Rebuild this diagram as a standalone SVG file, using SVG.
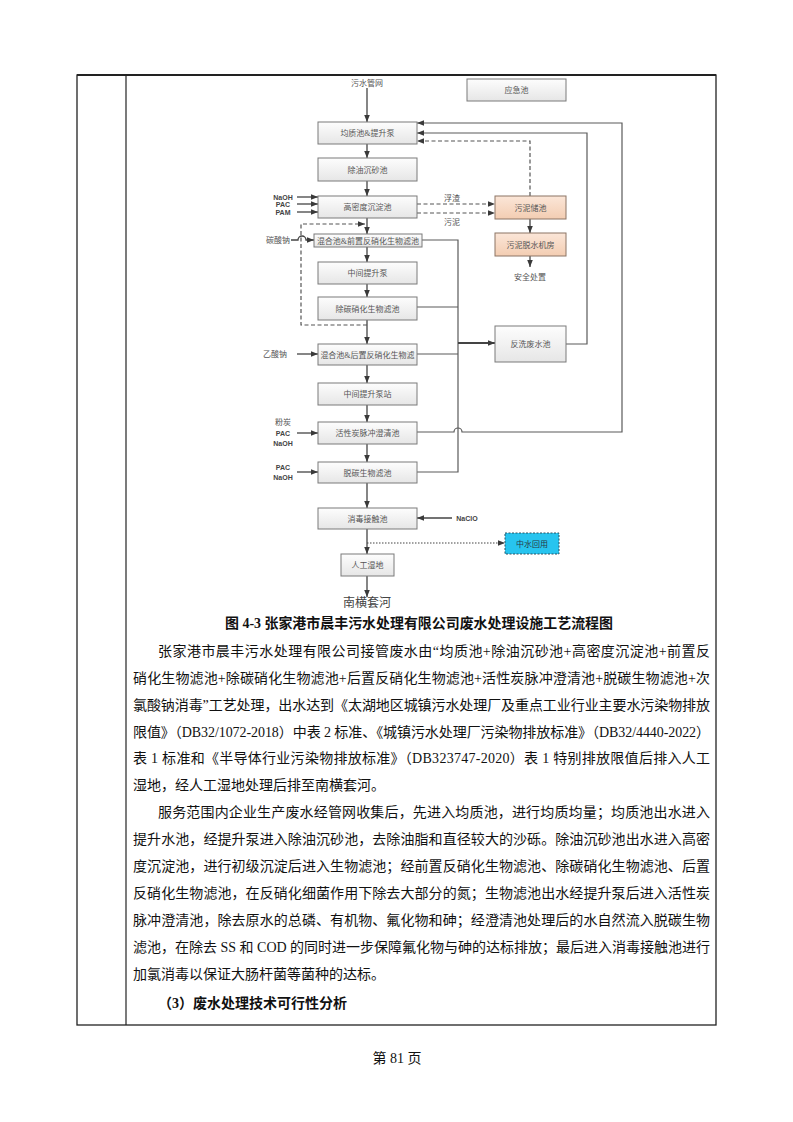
<svg xmlns="http://www.w3.org/2000/svg" width="793" height="1122" viewBox="0 0 793 1122">
<style>
.bx{fill:url(#gg);stroke:#7a7a7a;stroke-width:1}
.pk{fill:url(#pg);stroke:#8c7565;stroke-width:1}
.lb{font-family:"Liberation Serif","Noto Sans CJK SC",serif;font-size:8px;fill:#555;text-anchor:middle}
.ch{font-family:"Liberation Sans","Noto Sans CJK SC",sans-serif;font-size:7px;font-weight:bold;fill:#444;text-anchor:middle}
.cl{font-family:"Liberation Serif","Noto Sans CJK SC",serif;font-size:8px;fill:#555;text-anchor:middle}
.ln{fill:none;stroke:#5a5a5a;stroke-width:1.2}
.ar{fill:none;stroke:#444;stroke-width:1.3;marker-end:url(#ah)}
.ds{fill:none;stroke:#555;stroke-width:1.2;stroke-dasharray:4,2.5}
.bd{font-family:"Liberation Serif","Noto Sans CJK SC",serif;font-size:14px;fill:#111}
.bb{font-family:"Liberation Serif","Noto Sans CJK SC",serif;font-size:14px;font-weight:bold;fill:#111}
</style>
<defs>
<linearGradient id="gg" x1="0" y1="0" x2="0" y2="1"><stop offset="0" stop-color="#fdfdfd"/><stop offset="1" stop-color="#e6e6e6"/></linearGradient>
<linearGradient id="pg" x1="0" y1="0" x2="0" y2="1"><stop offset="0" stop-color="#fbe6d8"/><stop offset="1" stop-color="#f3cdb2"/></linearGradient>
<marker id="ah" viewBox="0 0 10 10" refX="10" refY="5" markerWidth="7" markerHeight="7" markerUnits="userSpaceOnUse" orient="auto"><path d="M0,1 L10,5 L0,9 z" fill="#3a3a3a"/></marker>
</defs>
<rect width="793" height="1122" fill="#fff"/>
<g id="table">
<rect x="77" y="75" width="639" height="950" fill="none" stroke="#222" stroke-width="1.3"/>
<line x1="77" y1="75" x2="716" y2="75" stroke="#222" stroke-width="2"/>
<line x1="126" y1="75" x2="126" y2="1025" stroke="#222" stroke-width="1.2"/>
</g>
<g id="connectors">
<path class="ar" d="M367,88 V122"/>
<path class="ar" d="M367,144 V158"/>
<path class="ar" d="M367,181 V196"/>
<path class="ar" d="M367,218 V234"/>
<path class="ar" d="M367,247 V262"/>
<path class="ar" d="M367,284 V297"/>
<path class="ar" d="M367,320 V344"/>
<path class="ar" d="M367,365 V383"/>
<path class="ar" d="M367,405 V422"/>
<path class="ar" d="M367,444 V462"/>
<path class="ar" d="M367,483 V508"/>
<path class="ar" d="M367,529 V554"/>
<path class="ar" d="M367,576 V597"/>
<path class="ar" d="M452,518 H417"/>
<path class="ar" style="stroke-dasharray:1.5,1.5;stroke-width:1.1" d="M367,543 H505"/>
<path class="ar" d="M297,197 H318"/>
<path class="ar" d="M297,204 H318"/>
<path class="ar" d="M297,212 H318"/>
<path class="ar" d="M291,240 H298 A4,4 0 0 1 306,240 H314"/>
<path class="ar" d="M297,354 H318"/>
<path class="ar" d="M297,433 H318"/>
<path class="ar" d="M297,472 H318"/>
<path class="ds" marker-end="url(#ah)" d="M417,204 H495"/>
<path class="ds" marker-end="url(#ah)" d="M417,213 H495"/>
<path class="ar" d="M530,219 V233"/>
<path class="ar" d="M530,256 V267"/>
<path class="ds" marker-end="url(#ah)" d="M530,196 V141 H417"/>
<path class="ln" marker-end="url(#ah)" d="M566,344 H587 V133 H417"/>
<path class="ln" marker-end="url(#ah)" d="M417,432 H454 A4,4 0 0 1 462,432 H622 V123 H417"/>
<path class="ln" d="M422,240 H458 V472 H417"/>
<path class="ln" d="M417,307 H458"/>
<path class="ln" d="M417,354 H458"/>
<path class="ar" style="stroke-width:1.8" d="M458,343 H495"/>
<path class="ds" marker-end="url(#ah)" d="M367,325 H301 V224 H365"/>
</g>
<g id="n-source"><text class="cl" x="367" y="86">污水管网</text></g>
<g id="n-emergency"><rect class="bx" x="467" y="79" width="99" height="22"/><text class="lb" x="516.5" y="93">应急池</text></g>
<g id="n-1"><rect class="bx" x="318" y="122" width="99" height="22"/><text class="lb" x="367.5" y="136">均质池&amp;提升泵</text></g>
<g id="n-2"><rect class="bx" x="318" y="158" width="99" height="23"/><text class="lb" x="367.5" y="172.5">除油沉砂池</text></g>
<g id="n-3"><rect class="bx" x="318" y="196" width="99" height="22"/><text class="lb" x="367.5" y="210">高密度沉淀池</text></g>
<g id="n-4"><rect class="bx" x="314" y="234" width="108" height="13"/><text class="lb" x="368" y="243.5">混合池&amp;前置反硝化生物滤池</text></g>
<g id="n-5"><rect class="bx" x="318" y="262" width="99" height="22"/><text class="lb" x="367.5" y="276">中间提升泵</text></g>
<g id="n-6"><rect class="bx" x="318" y="297" width="99" height="23"/><text class="lb" x="367.5" y="311.5">除碳硝化生物滤池</text></g>
<g id="n-7"><rect class="bx" x="318" y="344" width="99" height="21"/><text class="lb" x="367.5" y="357.5">混合池&amp;后置反硝化生物滤</text></g>
<g id="n-8"><rect class="bx" x="318" y="383" width="99" height="22"/><text class="lb" x="367.5" y="397">中间提升泵站</text></g>
<g id="n-9"><rect class="bx" x="318" y="422" width="99" height="22"/><text class="lb" x="367.5" y="436">活性炭脉冲澄清池</text></g>
<g id="n-10"><rect class="bx" x="318" y="462" width="99" height="21"/><text class="lb" x="367.5" y="475.5">脱碳生物滤池</text></g>
<g id="n-11"><rect class="bx" x="318" y="508" width="99" height="21"/><text class="lb" x="367.5" y="521.5">消毒接触池</text></g>
<g id="n-12"><rect class="bx" x="341" y="554" width="53" height="22"/><text class="lb" x="367.5" y="568">人工湿地</text></g>
<g id="n-river"><text x="367" y="607" style="font-family:'Liberation Serif','Noto Sans CJK SC',serif;font-size:12px;fill:#444;text-anchor:middle">南横套河</text></g>
<g id="n-sludge"><rect class="pk" x="495" y="196" width="71" height="23"/><text class="lb" x="530.5" y="210.5">污泥储池</text></g>
<g id="n-dewater"><rect class="pk" x="495" y="233" width="71" height="23"/><text class="lb" x="530.5" y="247.5">污泥脱水机房</text></g>
<g id="n-safe"><text class="cl" x="530" y="280">安全处置</text></g>
<g id="n-backwash"><rect class="bx" x="495" y="326" width="71" height="36"/><text class="lb" x="530.5" y="347">反洗废水池</text></g>
<g id="n-reuse"><rect x="505" y="533" width="54" height="21" fill="#27c4ef" stroke="#2a5060" stroke-width="1" stroke-dasharray="2,1.5"/><text class="lb" x="532" y="546.5" style="fill:#2a3a44">中水回用</text></g>
<g id="labels">
<text class="ch" x="283" y="200">NaOH</text>
<text class="ch" x="283" y="207">PAC</text>
<text class="ch" x="283" y="214.5">PAM</text>
<text class="cl" x="278" y="243">碳酸钠</text>
<text class="cl" x="275" y="357">乙酸钠</text>
<text class="cl" x="283" y="425">粉炭</text>
<text class="ch" x="283" y="436">PAC</text>
<text class="ch" x="283" y="446">NaOH</text>
<text class="ch" x="283" y="470">PAC</text>
<text class="ch" x="283" y="480">NaOH</text>
<text class="ch" x="467" y="521">NaClO</text>
<text class="cl" x="452" y="201">浮渣</text>
<text class="cl" x="452" y="225">污泥</text>
</g>
<g id="text">
<text class="bb" x="225" y="628" textLength="388" lengthAdjust="spacingAndGlyphs">图 4-3  张家港市晨丰污水处理有限公司废水处理设施工艺流程图</text>
<text class="bd" x="158" y="656" textLength="552" lengthAdjust="spacing">张家港市晨丰污水处理有限公司接管废水由“均质池+除油沉砂池+高密度沉淀池+前置反</text>
<text class="bd" x="133" y="683" textLength="577" lengthAdjust="spacing">硝化生物滤池+除碳硝化生物滤池+后置反硝化生物滤池+活性炭脉冲澄清池+脱碳生物滤池+次</text>
<text class="bd" x="133" y="710" textLength="577" lengthAdjust="spacing">氯酸钠消毒”工艺处理，出水达到《太湖地区城镇污水处理厂及重点工业行业主要水污染物排放</text>
<text class="bd" x="133" y="737" textLength="577" lengthAdjust="spacing">限值》（DB32/1072-2018）中表 2 标准、《城镇污水处理厂污染物排放标准》（DB32/4440-2022）</text>
<text class="bd" x="133" y="763" textLength="577" lengthAdjust="spacing">表 1 标准和《半导体行业污染物排放标准》（DB323747-2020）表 1 特别排放限值后排入人工</text>
<text class="bd" x="133" y="790">湿地，经人工湿地处理后排至南横套河。</text>
<text class="bd" x="158" y="817" textLength="552" lengthAdjust="spacing">服务范围内企业生产废水经管网收集后，先进入均质池，进行均质均量；均质池出水进入</text>
<text class="bd" x="133" y="844" textLength="577" lengthAdjust="spacing">提升水池，经提升泵进入除油沉砂池，去除油脂和直径较大的沙砾。除油沉砂池出水进入高密</text>
<text class="bd" x="133" y="871" textLength="577" lengthAdjust="spacing">度沉淀池，进行初级沉淀后进入生物滤池；经前置反硝化生物滤池、除碳硝化生物滤池、后置</text>
<text class="bd" x="133" y="898" textLength="577" lengthAdjust="spacing">反硝化生物滤池，在反硝化细菌作用下除去大部分的氮；生物滤池出水经提升泵后进入活性炭</text>
<text class="bd" x="133" y="925" textLength="577" lengthAdjust="spacing">脉冲澄清池，除去原水的总磷、有机物、氟化物和砷；经澄清池处理后的水自然流入脱碳生物</text>
<text class="bd" x="133" y="952" textLength="577" lengthAdjust="spacing">滤池，在除去 SS 和 COD 的同时进一步保障氟化物与砷的达标排放；最后进入消毒接触池进行</text>
<text class="bd" x="133" y="979">加氯消毒以保证大肠杆菌等菌种的达标。</text>
<text class="bb" x="158" y="1008">（3）废水处理技术可行性分析</text>
<text class="bd" x="397" y="1063" text-anchor="middle">第 81 页</text>
</g>
</svg>
